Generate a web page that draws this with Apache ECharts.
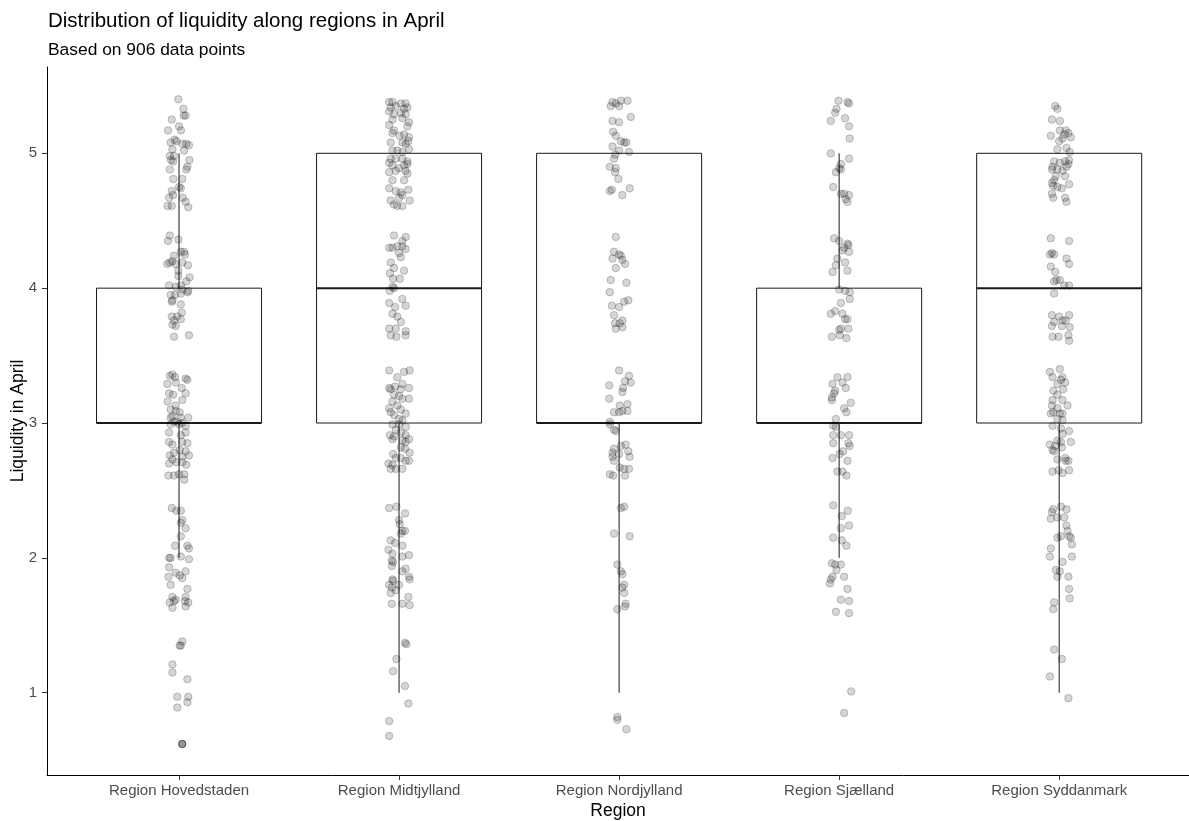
<!DOCTYPE html>
<html>
<head>
<meta charset="utf-8">
<script src="https://cdn.jsdelivr.net/npm/echarts@6/dist/echarts.min.js"></script>
<style>
  html, body { margin: 0; padding: 0; background: #ffffff; }
  #chart { width: 1189px; height: 821px; }
</style>
</head>
<body>
<div id="chart"></div>
<script>
// ---------------- DATA ----------------
const regions = ["Region Hovedstaden", "Region Midtjylland", "Region Nordjylland", "Region Sjælland", "Region Syddanmark"];
const yTicks = [1, 2, 3, 4, 5];

// box statistics per region
const whiskerLow  = [2, 1, 1, 2, 1];
const q1          = [3, 3, 3, 3, 3];
const median      = [3, 4, 3, 3, 4];
const q3          = [4, 5, 5, 4, 5];
const whiskerHigh = [5, 5, 5, 5, 5];

// jittered points per region: [horizontal jitter offset, liquidity value]
const hovedstaden = [
  [-0.003,5.40],[0.020,5.33],[0.021,5.28],[0.030,5.28],[-0.033,5.25],[0,5.20],[-0.050,5.17],[0.009,5.17],[-0.020,5.10],[-0.011,5.09],[-0.038,5.08],[0.015,5.07],[0.033,5.07],[0.045,5.06],[-0.030,5.03],[0.023,5.02],[-0.042,4.98],[-0.023,4.98],[-0.036,4.95],[-0.027,4.94],[0.047,4.95],[0.038,4.90],[0.033,4.88],[-0.042,4.88],[-0.026,4.81],[0.015,4.81],[0,4.75],[0.008,4.74],[-0.033,4.72],[-0.045,4.67],[-0.027,4.69],[0.017,4.67],[0.030,4.64],[0.042,4.60],[-0.052,4.61],[-0.033,4.61],
  [-0.042,4.39],[-0.050,4.35],[-0.003,4.36],[0.008,4.27],[0.023,4.27],[-0.023,4.24],[0.027,4.25],[-0.042,4.19],[-0.053,4.18],[-0.030,4.20],[-0.015,4.18],[0.015,4.19],[0.041,4.17],[-0.003,4.13],[-0.003,4.09],[0.048,4.08],[0.033,4.05],[-0.045,4.02],[-0.015,4.01],[0.009,4.02],[0.015,3.99],[0.042,3.98],[-0.038,3.95],[-0.018,3.95],[0.008,3.96],[0.038,3.97],[-0.030,3.91],[-0.033,3.90],[0.008,3.88],[0.012,3.82],[-0.033,3.79],[-0.008,3.79],[0.008,3.77],[-0.023,3.76],[-0.030,3.73],[-0.015,3.72],[0.045,3.65],[-0.023,3.64],
  [-0.030,3.36],[-0.042,3.35],[-0.018,3.34],[0.030,3.33],[0.038,3.32],[-0.053,3.29],[-0.015,3.30],[0.012,3.26],[-0.045,3.22],[-0.027,3.21],[0.030,3.22],[-0.052,3.16],[0.015,3.17],[-0.015,3.13],[-0.038,3.10],[-0.015,3.09],[0.003,3.08],[-0.030,3.05],[-0.038,3.04],[0.008,3.04],[-0.023,3.01],[-0.008,3.01],[0.042,3.04],
  [-0.038,2.99],[0,2.99],[0.015,3.00],[0.030,2.98],[-0.045,2.93],[0.030,2.93],[0.008,2.91],[-0.045,2.86],[-0.030,2.84],[0.015,2.86],[0.038,2.85],[-0.023,2.78],[0.003,2.80],[0.030,2.79],[0.015,2.75],[0.045,2.76],[-0.042,2.76],[-0.030,2.73],[-0.012,2.71],[0.015,2.71],[0.033,2.69],[-0.045,2.70],[-0.048,2.61],[-0.023,2.61],[0,2.62],[0.024,2.62],[0.024,2.58],
  [-0.033,2.37],[0.008,2.35],[-0.012,2.35],[0.015,2.28],[0.008,2.26],[0.030,2.22],[0.008,2.16],[-0.018,2.09],[0.038,2.09],[0.045,2.07],[0.008,2.01],[-0.045,2.00],[-0.038,2.00],[0.045,1.99],[-0.045,1.93],[-0.048,1.86],[-0.015,1.89],[0.003,1.87],[0.015,1.85],[0.030,1.90],[-0.038,1.80],[0.038,1.77],[-0.030,1.71],[-0.015,1.69],[0.030,1.71],[-0.042,1.67],[-0.023,1.68],[0.027,1.68],[0.042,1.67],[-0.030,1.63],[0.030,1.64],
  [0.015,1.38],[0.008,1.35],[0.003,1.35],[-0.030,1.21],[-0.030,1.15],[0.038,1.10],[-0.008,0.97],[0.042,0.97],[0.038,0.93],[-0.008,0.89],[0.015,0.62],[0.015,0.62],[0.013,0.62]
];
const midtjylland = [
  [-0.045,5.38],[-0.030,5.38],[0.008,5.37],[0.030,5.37],[-0.038,5.34],[-0.015,5.35],[0.023,5.33],[0.038,5.34],[-0.045,5.31],[-0.023,5.29],[0.008,5.30],[0.030,5.29],[-0.030,5.25],[0.015,5.26],[0.045,5.23],[0.038,5.20],[-0.045,5.21],[-0.023,5.17],[-0.030,5.15],[0.003,5.13],[0.023,5.14],[0.045,5.12],[-0.038,5.08],[0.015,5.08],[0.030,5.07],[0.042,5.09],[-0.030,5.02],[-0.008,5.02],[0.015,5.01],[0.045,5.03],[-0.038,4.96],[-0.015,4.96],[-0.045,4.93],[0.015,4.96],[0.038,4.94],[-0.030,4.91],[0.023,4.91],[0.038,4.92],[0,4.89],[-0.045,4.86],[-0.015,4.87],[0.030,4.87],[0.038,4.85],[-0.030,4.80],[0.023,4.80],[-0.045,4.74],[-0.015,4.72],[0.008,4.71],[0.042,4.73],[-0.038,4.65],[0,4.67],[0.048,4.65],[0.015,4.69],[-0.023,4.62],[-0.008,4.61],[0.015,4.61],
  [-0.023,4.39],[0.030,4.38],[0.015,4.35],[-0.045,4.30],[-0.030,4.30],[-0.008,4.31],[0.015,4.31],[0.030,4.29],[0,4.26],[0.008,4.23],[-0.038,4.19],[0.023,4.13],[-0.023,4.15],[-0.042,4.11],[-0.027,4.07],[0.003,4.07],[-0.030,4.01],[-0.023,4.00],[-0.042,3.98],[0.015,3.92],[-0.045,3.89],[0.030,3.87],[-0.018,3.86],[-0.030,3.81],[-0.008,3.79],[0.008,3.75],[-0.045,3.70],[-0.015,3.70],[0.030,3.68],[-0.012,3.64],[-0.038,3.65],[0.030,3.65],
  [-0.045,3.39],[0.023,3.38],[0.048,3.39],[-0.008,3.34],[-0.018,3.27],[0.015,3.29],[-0.045,3.26],[-0.038,3.25],[0.045,3.26],[0.008,3.25],[-0.023,3.21],[0,3.20],[0.015,3.18],[-0.030,3.16],[-0.008,3.13],[0.045,3.18],[-0.045,3.11],[0.008,3.10],[-0.038,3.08],[0.030,3.07],[-0.023,3.06],[0,3.03],[0.015,3.02],
  [-0.030,2.99],[0,2.99],[0.030,2.97],[-0.015,2.95],[-0.042,2.91],[-0.023,2.90],[0.008,2.93],[0.030,2.91],[0.045,2.88],[-0.030,2.88],[0.015,2.87],[0.030,2.86],[0.008,2.82],[0.027,2.81],[-0.027,2.77],[0.048,2.78],[-0.015,2.74],[0.008,2.74],[0.030,2.72],[-0.048,2.70],[-0.030,2.69],[-0.038,2.66],[-0.015,2.66],[0.015,2.66],[0.045,2.72],
  [-0.045,2.37],[-0.012,2.38],[0.027,2.33],[0,2.28],[0.003,2.25],[0.015,2.20],[0.027,2.20],[0.008,2.18],[-0.038,2.13],[-0.018,2.11],[0.015,2.09],[-0.048,2.06],[-0.030,2.03],[-0.033,1.98],[0.015,2.01],[0.045,2.02],[-0.027,1.97],[0.015,1.90],[0.030,1.92],[-0.033,1.94],[0.045,1.86],[0.048,1.84],[-0.030,1.84],[-0.027,1.83],[-0.045,1.80],[-0.033,1.78],[0,1.80],[-0.015,1.76],[-0.038,1.74],[0.042,1.71],[-0.033,1.66],[0.015,1.66],[0.048,1.65],
  [0.027,1.37],[0.033,1.36],[-0.012,1.25],[-0.027,1.16],[0.027,1.05],[0.042,0.92],[-0.045,0.79],[-0.045,0.68]
];
const nordjylland = [
  [-0.030,5.38],[-0.015,5.37],[0.008,5.39],[0.038,5.39],[-0.038,5.35],[0,5.35],[0.053,5.27],[-0.030,5.24],[0,5.23],[-0.027,5.16],[-0.015,5.13],[0.008,5.09],[0.023,5.08],[0.033,5.08],[-0.030,5.05],[0.045,5.01],[0,5.02],[-0.018,4.99],[-0.023,4.96],[-0.042,4.90],[-0.015,4.89],[-0.018,4.86],[-0.003,4.81],[-0.042,4.72],[-0.033,4.73],[0.015,4.69],[0.048,4.74],
  [-0.015,4.38],[-0.023,4.27],[0,4.25],[0.008,4.24],[-0.030,4.22],[0.015,4.21],[0.027,4.18],[-0.015,4.15],[-0.038,4.06],[0.033,4.04],[-0.042,3.97],[0.023,3.90],[0.042,3.91],[-0.033,3.87],[0,3.86],[-0.023,3.80],[0.015,3.76],[-0.018,3.74],[0.003,3.74],[-0.015,3.70],[0.015,3.71],
  [0,3.39],[0.045,3.35],[0.027,3.31],[0.053,3.30],[-0.045,3.28],[0.018,3.26],[0.015,3.23],[-0.045,3.18],[0.003,3.13],[0.038,3.14],[-0.023,3.08],[0,3.08],[0.015,3.09],[0.038,3.09],[-0.042,3.01],
  [-0.042,2.99],[-0.015,2.94],[-0.023,2.95],[-0.023,2.81],[0.008,2.83],[0.030,2.84],[-0.030,2.78],[0.042,2.79],[-0.030,2.75],[0.048,2.75],[0,2.77],[-0.023,2.72],[0.003,2.67],[0.023,2.66],[0.045,2.66],[-0.042,2.62],[-0.027,2.61],[0.027,2.61],
  [0.008,2.37],[0.023,2.38],[-0.023,2.18],[0.048,2.16],[-0.008,1.95],[0.008,1.90],[0.015,1.88],[0.023,1.80],[0.015,1.78],[0.023,1.74],[0.030,1.66],[0.027,1.64],[-0.008,1.62],
  [-0.008,0.82],[-0.008,0.80],[0.033,0.73]
];
const sjaelland = [
  [-0.003,5.39],[0.038,5.38],[0.045,5.37],[-0.012,5.33],[-0.018,5.30],[-0.038,5.24],[0.027,5.26],[0.045,5.20],[0.048,5.11],[-0.038,5.00],[0.045,4.96],[0.008,4.92],[0,4.89],[0.008,4.88],[-0.015,4.86],[-0.027,4.75],[0.008,4.70],[0.023,4.70],[0.045,4.69],[0.030,4.66],[0.038,4.64],
  [-0.023,4.37],[0,4.35],[0.038,4.33],[0.042,4.32],[0.023,4.30],[0.015,4.28],[0.045,4.27],[-0.008,4.22],[-0.015,4.17],[0.027,4.19],[-0.030,4.12],[0.038,4.13],[0,3.99],[0.027,3.98],[0.048,3.97],[0.048,3.92],[0.008,3.89],[-0.018,3.83],[-0.038,3.81],[0.015,3.81],[0.027,3.77],[0.038,3.77],[0.008,3.70],[0.042,3.70],[0,3.69],[-0.033,3.64],[0.003,3.65],[0.033,3.63],
  [-0.008,3.34],[0.038,3.34],[0.015,3.30],[-0.030,3.29],[0.030,3.26],[-0.018,3.24],[-0.023,3.22],[-0.033,3.19],[-0.033,3.17],[0.053,3.15],[0.023,3.11],[0.033,3.08],[-0.015,3.03],
  [-0.027,2.98],[-0.015,2.97],[-0.027,2.91],[0.008,2.91],[0.045,2.91],[-0.027,2.85],[0.042,2.85],[0.048,2.83],[0.018,2.79],[0.003,2.77],[-0.030,2.74],[0.038,2.72],[-0.008,2.64],[0.015,2.64],[0.033,2.61],
  [-0.027,2.39],[0.039,2.35],[0.012,2.31],[0.045,2.24],[0.008,2.22],[-0.027,2.15],[0.012,2.13],[0.033,2.09],[-0.033,1.96],[-0.018,1.95],[0.008,1.95],[-0.012,1.91],[-0.030,1.86],[0.023,1.86],[-0.038,1.84],[-0.042,1.81],[0.038,1.77],[0.008,1.69],[0.045,1.68],[-0.015,1.60],[0.045,1.59],
  [0.055,1.01],[0.023,0.85]
];
const syddanmark = [
  [-0.018,5.35],[-0.008,5.33],[-0.033,5.25],[0.003,5.24],[-0.038,5.13],[0.003,5.17],[0.030,5.17],[0.023,5.14],[0.042,5.15],[0.053,5.12],[0,5.09],[0.015,5.11],[-0.008,5.03],[0.033,5.04],[0.048,5.01],[-0.023,4.94],[0.045,4.95],[0.003,4.93],[0.027,4.94],[0.042,4.92],[0.033,4.90],[-0.030,4.90],[-0.033,4.88],[0.015,4.87],[-0.008,4.88],[-0.015,4.83],[-0.023,4.80],[0.027,4.83],[-0.027,4.76],[-0.008,4.75],[0.012,4.74],[0.045,4.77],[-0.033,4.78],[-0.033,4.70],[-0.027,4.67],[0.027,4.67],[0.033,4.64],
  [-0.038,4.37],[0.045,4.35],[-0.033,4.26],[-0.023,4.25],[-0.042,4.25],[0.033,4.22],[0.045,4.18],[-0.038,4.16],[-0.018,4.12],[-0.012,4.06],[0.003,4.06],[-0.023,4.05],[0.023,4.02],[0.045,4.02],[-0.023,3.96],[-0.033,3.80],[0.045,3.80],[0,3.79],[0.015,3.76],[-0.023,3.75],[0.030,3.76],[-0.033,3.72],[0.012,3.72],[0.048,3.71],[-0.030,3.64],[-0.003,3.64],[0.042,3.65],[0.045,3.61],
  [-0.042,3.38],[0.003,3.40],[-0.030,3.34],[0.015,3.34],[0.008,3.32],[-0.008,3.29],[0.027,3.30],[-0.027,3.24],[0.018,3.25],[-0.008,3.21],[-0.030,3.17],[0.015,3.17],[-0.033,3.13],[0.038,3.13],[-0.008,3.11],[-0.027,3.08],[0.003,3.07],[0.015,3.07],[-0.038,3.07],[-0.008,3.03],[0.015,3.02],
  [-0.030,2.98],[0.008,2.96],[0.045,2.94],[0.015,2.92],[-0.008,2.87],[0.053,2.86],[-0.042,2.84],[-0.018,2.83],[0.008,2.86],[-0.030,2.80],[0.012,2.82],[-0.023,2.79],[-0.008,2.73],[0.030,2.72],[0.042,2.72],[0.027,2.74],[-0.030,2.64],[-0.003,2.65],[0.015,2.63],[0.045,2.65],
  [-0.027,2.36],[0.008,2.38],[0.033,2.36],[-0.033,2.34],[-0.038,2.29],[-0.008,2.30],[0.023,2.30],[0.033,2.24],[0.038,2.20],[-0.008,2.15],[0.008,2.16],[0.045,2.16],[0.053,2.15],[0.058,2.10],[-0.038,2.07],[-0.042,2.01],[0.058,2.01],[0.015,1.97],[-0.015,1.91],[0.003,1.90],[-0.008,1.86],[0.042,1.86],[0.045,1.77],[0.048,1.70],[-0.023,1.67],[-0.027,1.62],
  [-0.023,1.32],[0.012,1.25],[-0.042,1.12],[0.042,0.96]
];
const pointsByRegion = [hovedstaden, midtjylland, nordjylland, sjaelland, syddanmark];

// ---------------- CHART ----------------
const FONT = '"Liberation Sans", Arial, "DejaVu Sans", sans-serif';
const chart = echarts.init(document.getElementById('chart'), null, { renderer: 'canvas' });

const boxData = regions.map((r, i) => [i + 1, whiskerLow[i], q1[i], median[i], q3[i], whiskerHigh[i]]);
const scatterData = [];
pointsByRegion.forEach((pts, i) => pts.forEach(p => scatterData.push([i + 1 + p[0], p[1]])));

const BOX_HALF = 0.375;

chart.setOption({
  animation: false,
  backgroundColor: '#ffffff',
  title: {
    text: 'Distribution of liquidity along regions in April',
    subtext: 'Based on 906 data points',
    left: 43,
    top: 6,
    itemGap: 10,
    textStyle: { fontFamily: FONT, fontSize: 20.5, fontWeight: 'normal', color: '#000000' },
    subtextStyle: { fontFamily: FONT, fontSize: 17.4, color: '#000000' }
  },
  grid: { left: 47, right: 0, top: 67, bottom: 46, containLabel: false, outerBoundsMode: 'none' },
  xAxis: {
    type: 'value',
    min: 0.4,
    max: 5.59,
    name: 'Region',
    nameLocation: 'middle',
    nameGap: 27,
    nameMoveOverlap: false,
    nameTextStyle: { fontFamily: FONT, fontSize: 17.5, color: '#000000' },
    axisLine: { show: true, onZero: false, lineStyle: { color: '#000000', width: 1 } },
    axisTick: { show: true, customValues: yTicks, length: 5, lineStyle: { color: '#333333' } },
    axisLabel: {
      customValues: yTicks,
      formatter: v => regions[Math.round(v) - 1] || '',
      fontFamily: FONT, fontSize: 15, color: '#4d4d4d', margin: 8
    },
    splitLine: { show: false }
  },
  yAxis: {
    type: 'value',
    min: 0.39,
    max: 5.64,
    name: 'Liquidity in April',
    nameLocation: 'middle',
    nameGap: 20,
    nameMoveOverlap: false,
    nameTextStyle: { fontFamily: FONT, fontSize: 17.5, color: '#000000' },
    axisLine: { show: true, onZero: false, lineStyle: { color: '#000000', width: 1 } },
    axisTick: { show: true, customValues: yTicks, length: 5, lineStyle: { color: '#333333' } },
    axisLabel: {
      customValues: yTicks,
      fontFamily: FONT, fontSize: 15, color: '#4d4d4d', margin: 10
    },
    splitLine: { show: false }
  },
  series: [
    {
      type: 'custom',
      name: 'box',
      z: 1,
      data: boxData,
      renderItem: function (params, api) {
        const x = api.value(0);
        const wl = api.value(1), b1 = api.value(2), md = api.value(3), b3 = api.value(4), wh = api.value(5);
        const tl = api.coord([x - BOX_HALF, b3]);
        const br = api.coord([x + BOX_HALF, b1]);
        const mL = api.coord([x - BOX_HALF, md]);
        const mR = api.coord([x + BOX_HALF, md]);
        const c = api.coord([x, 0])[0];
        const pWh = api.coord([x, wh])[1];
        const pWl = api.coord([x, wl])[1];
        const children = [
          { type: 'rect', shape: { x: tl[0], y: tl[1], width: br[0] - tl[0], height: br[1] - tl[1] },
            style: { fill: 'none', stroke: '#1a1a1a', lineWidth: 1 } },
          { type: 'line', shape: { x1: mL[0], y1: mL[1], x2: mR[0], y2: mR[1] },
            style: { stroke: '#1a1a1a', lineWidth: 2 } }
        ];
        if (wh > b3) children.push({ type: 'line', shape: { x1: c, y1: tl[1], x2: c, y2: pWh }, style: { stroke: '#1a1a1a', lineWidth: 1 } });
        if (wl < b1) children.push({ type: 'line', shape: { x1: c, y1: br[1], x2: c, y2: pWl }, style: { stroke: '#1a1a1a', lineWidth: 1 } });
        return { type: 'group', children: children };
      }
    },
    {
      type: 'scatter',
      name: 'points',
      z: 2,
      data: scatterData,
      symbol: 'circle',
      symbolSize: 7.5,
      itemStyle: { color: 'rgba(0,0,0,0.2)', borderColor: 'rgba(0,0,0,0.32)', borderWidth: 0.8 },
      emphasis: { disabled: true }
    }
  ]
});
</script>
</body>
</html>
